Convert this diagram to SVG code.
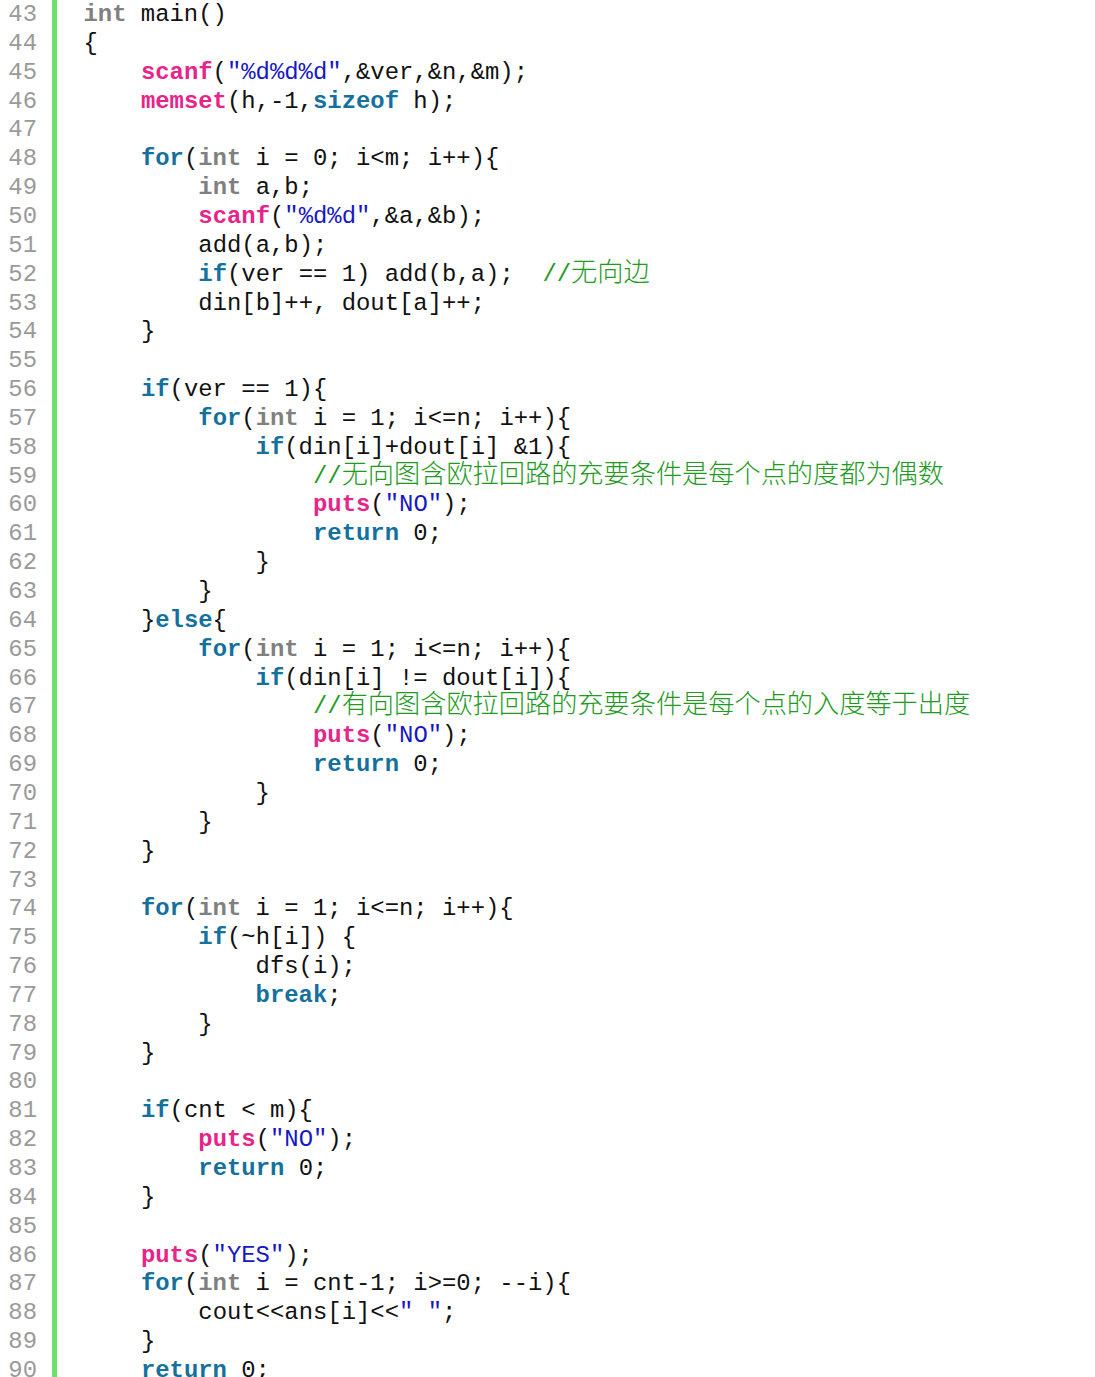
<svg xmlns="http://www.w3.org/2000/svg" width="1095" height="1377" viewBox="0 0 1095 1377" xml:space="preserve">
<style>
text{font-family:"Liberation Mono","DejaVu Sans Mono",monospace;font-size:23.9px;fill:#111;white-space:pre}
.ln{fill:#9a9a9a;text-anchor:end}
.k{fill:#14709c;font-weight:bold}
.t{fill:#808080;font-weight:bold}
.f{fill:#e6248a;font-weight:bold}
.s{fill:#1717c4}
.c{fill:#229a22}
.z{font-family:"Noto Sans CJK SC","Noto Sans CJK TC",sans-serif;font-size:26.2px;font-weight:300}
</style>
<rect x="0" y="0" width="1095" height="1377" fill="#ffffff"/>
<rect x="52" y="0" width="5" height="1377" fill="#6de06d"/>
<g id="line-numbers">
<text class="ln" x="37" y="21">43</text>
<text class="ln" x="37" y="49.85">44</text>
<text class="ln" x="37" y="78.7">45</text>
<text class="ln" x="37" y="107.55">46</text>
<text class="ln" x="37" y="136.4">47</text>
<text class="ln" x="37" y="165.25">48</text>
<text class="ln" x="37" y="194.1">49</text>
<text class="ln" x="37" y="222.95">50</text>
<text class="ln" x="37" y="251.8">51</text>
<text class="ln" x="37" y="280.65">52</text>
<text class="ln" x="37" y="309.5">53</text>
<text class="ln" x="37" y="338.35">54</text>
<text class="ln" x="37" y="367.2">55</text>
<text class="ln" x="37" y="396.05">56</text>
<text class="ln" x="37" y="424.9">57</text>
<text class="ln" x="37" y="453.75">58</text>
<text class="ln" x="37" y="482.6">59</text>
<text class="ln" x="37" y="511.45">60</text>
<text class="ln" x="37" y="540.3">61</text>
<text class="ln" x="37" y="569.15">62</text>
<text class="ln" x="37" y="598">63</text>
<text class="ln" x="37" y="626.85">64</text>
<text class="ln" x="37" y="655.7">65</text>
<text class="ln" x="37" y="684.55">66</text>
<text class="ln" x="37" y="713.4">67</text>
<text class="ln" x="37" y="742.25">68</text>
<text class="ln" x="37" y="771.1">69</text>
<text class="ln" x="37" y="799.95">70</text>
<text class="ln" x="37" y="828.8">71</text>
<text class="ln" x="37" y="857.65">72</text>
<text class="ln" x="37" y="886.5">73</text>
<text class="ln" x="37" y="915.35">74</text>
<text class="ln" x="37" y="944.2">75</text>
<text class="ln" x="37" y="973.05">76</text>
<text class="ln" x="37" y="1001.9">77</text>
<text class="ln" x="37" y="1030.75">78</text>
<text class="ln" x="37" y="1059.6">79</text>
<text class="ln" x="37" y="1088.45">80</text>
<text class="ln" x="37" y="1117.3">81</text>
<text class="ln" x="37" y="1146.15">82</text>
<text class="ln" x="37" y="1175">83</text>
<text class="ln" x="37" y="1203.85">84</text>
<text class="ln" x="37" y="1232.7">85</text>
<text class="ln" x="37" y="1261.55">86</text>
<text class="ln" x="37" y="1290.4">87</text>
<text class="ln" x="37" y="1319.25">88</text>
<text class="ln" x="37" y="1348.1">89</text>
<text class="ln" x="37" y="1376.95">90</text>
</g>
<g id="code">
<text x="83.5" y="21"><tspan class="t">int</tspan> main()</text>
<text x="83.5" y="49.85">{</text>
<text x="140.9" y="78.7"><tspan class="f">scanf</tspan>(<tspan class="s">"%d%d%d"</tspan>,&amp;ver,&amp;n,&amp;m);</text>
<text x="140.9" y="107.55"><tspan class="f">memset</tspan>(h,-1,<tspan class="k">sizeof</tspan> h);</text>
<text x="140.9" y="165.25"><tspan class="k">for</tspan>(<tspan class="t">int</tspan> i = 0; i&lt;m; i++){</text>
<text x="198.3" y="194.1"><tspan class="t">int</tspan> a,b;</text>
<text x="198.3" y="222.95"><tspan class="f">scanf</tspan>(<tspan class="s">"%d%d"</tspan>,&amp;a,&amp;b);</text>
<text x="198.3" y="251.8">add(a,b);</text>
<text x="198.3" y="280.65"><tspan class="k">if</tspan>(ver == 1) add(b,a);  <tspan class="c">//</tspan><tspan class="c z">无向边</tspan></text>
<text x="198.3" y="309.5">din[b]++, dout[a]++;</text>
<text x="140.9" y="338.35">}</text>
<text x="140.9" y="396.05"><tspan class="k">if</tspan>(ver == 1){</text>
<text x="198.3" y="424.9"><tspan class="k">for</tspan>(<tspan class="t">int</tspan> i = 1; i&lt;=n; i++){</text>
<text x="255.6" y="453.75"><tspan class="k">if</tspan>(din[i]+dout[i] &amp;1){</text>
<text x="313" y="482.6"><tspan class="c">//</tspan><tspan class="c z">无向图含欧拉回路的充要条件是每个点的度都为偶数</tspan></text>
<text x="313" y="511.45"><tspan class="f">puts</tspan>(<tspan class="s">"NO"</tspan>);</text>
<text x="313" y="540.3"><tspan class="k">return</tspan> 0;</text>
<text x="255.6" y="569.15">}</text>
<text x="198.3" y="598">}</text>
<text x="140.9" y="626.85">}<tspan class="k">else</tspan>{</text>
<text x="198.3" y="655.7"><tspan class="k">for</tspan>(<tspan class="t">int</tspan> i = 1; i&lt;=n; i++){</text>
<text x="255.6" y="684.55"><tspan class="k">if</tspan>(din[i] != dout[i]){</text>
<text x="313" y="713.4"><tspan class="c">//</tspan><tspan class="c z">有向图含欧拉回路的充要条件是每个点的入度等于出度</tspan></text>
<text x="313" y="742.25"><tspan class="f">puts</tspan>(<tspan class="s">"NO"</tspan>);</text>
<text x="313" y="771.1"><tspan class="k">return</tspan> 0;</text>
<text x="255.6" y="799.95">}</text>
<text x="198.3" y="828.8">}</text>
<text x="140.9" y="857.65">}</text>
<text x="140.9" y="915.35"><tspan class="k">for</tspan>(<tspan class="t">int</tspan> i = 1; i&lt;=n; i++){</text>
<text x="198.3" y="944.2"><tspan class="k">if</tspan>(~h[i]) {</text>
<text x="255.6" y="973.05">dfs(i);</text>
<text x="255.6" y="1001.9"><tspan class="k">break</tspan>;</text>
<text x="198.3" y="1030.75">}</text>
<text x="140.9" y="1059.6">}</text>
<text x="140.9" y="1117.3"><tspan class="k">if</tspan>(cnt &lt; m){</text>
<text x="198.3" y="1146.15"><tspan class="f">puts</tspan>(<tspan class="s">"NO"</tspan>);</text>
<text x="198.3" y="1175"><tspan class="k">return</tspan> 0;</text>
<text x="140.9" y="1203.85">}</text>
<text x="140.9" y="1261.55"><tspan class="f">puts</tspan>(<tspan class="s">"YES"</tspan>);</text>
<text x="140.9" y="1290.4"><tspan class="k">for</tspan>(<tspan class="t">int</tspan> i = cnt-1; i&gt;=0; --i){</text>
<text x="198.3" y="1319.25">cout&lt;&lt;ans[i]&lt;&lt;<tspan class="s">" "</tspan>;</text>
<text x="140.9" y="1348.1">}</text>
<text x="140.9" y="1376.95"><tspan class="k">return</tspan> 0;</text>
</g>
</svg>
